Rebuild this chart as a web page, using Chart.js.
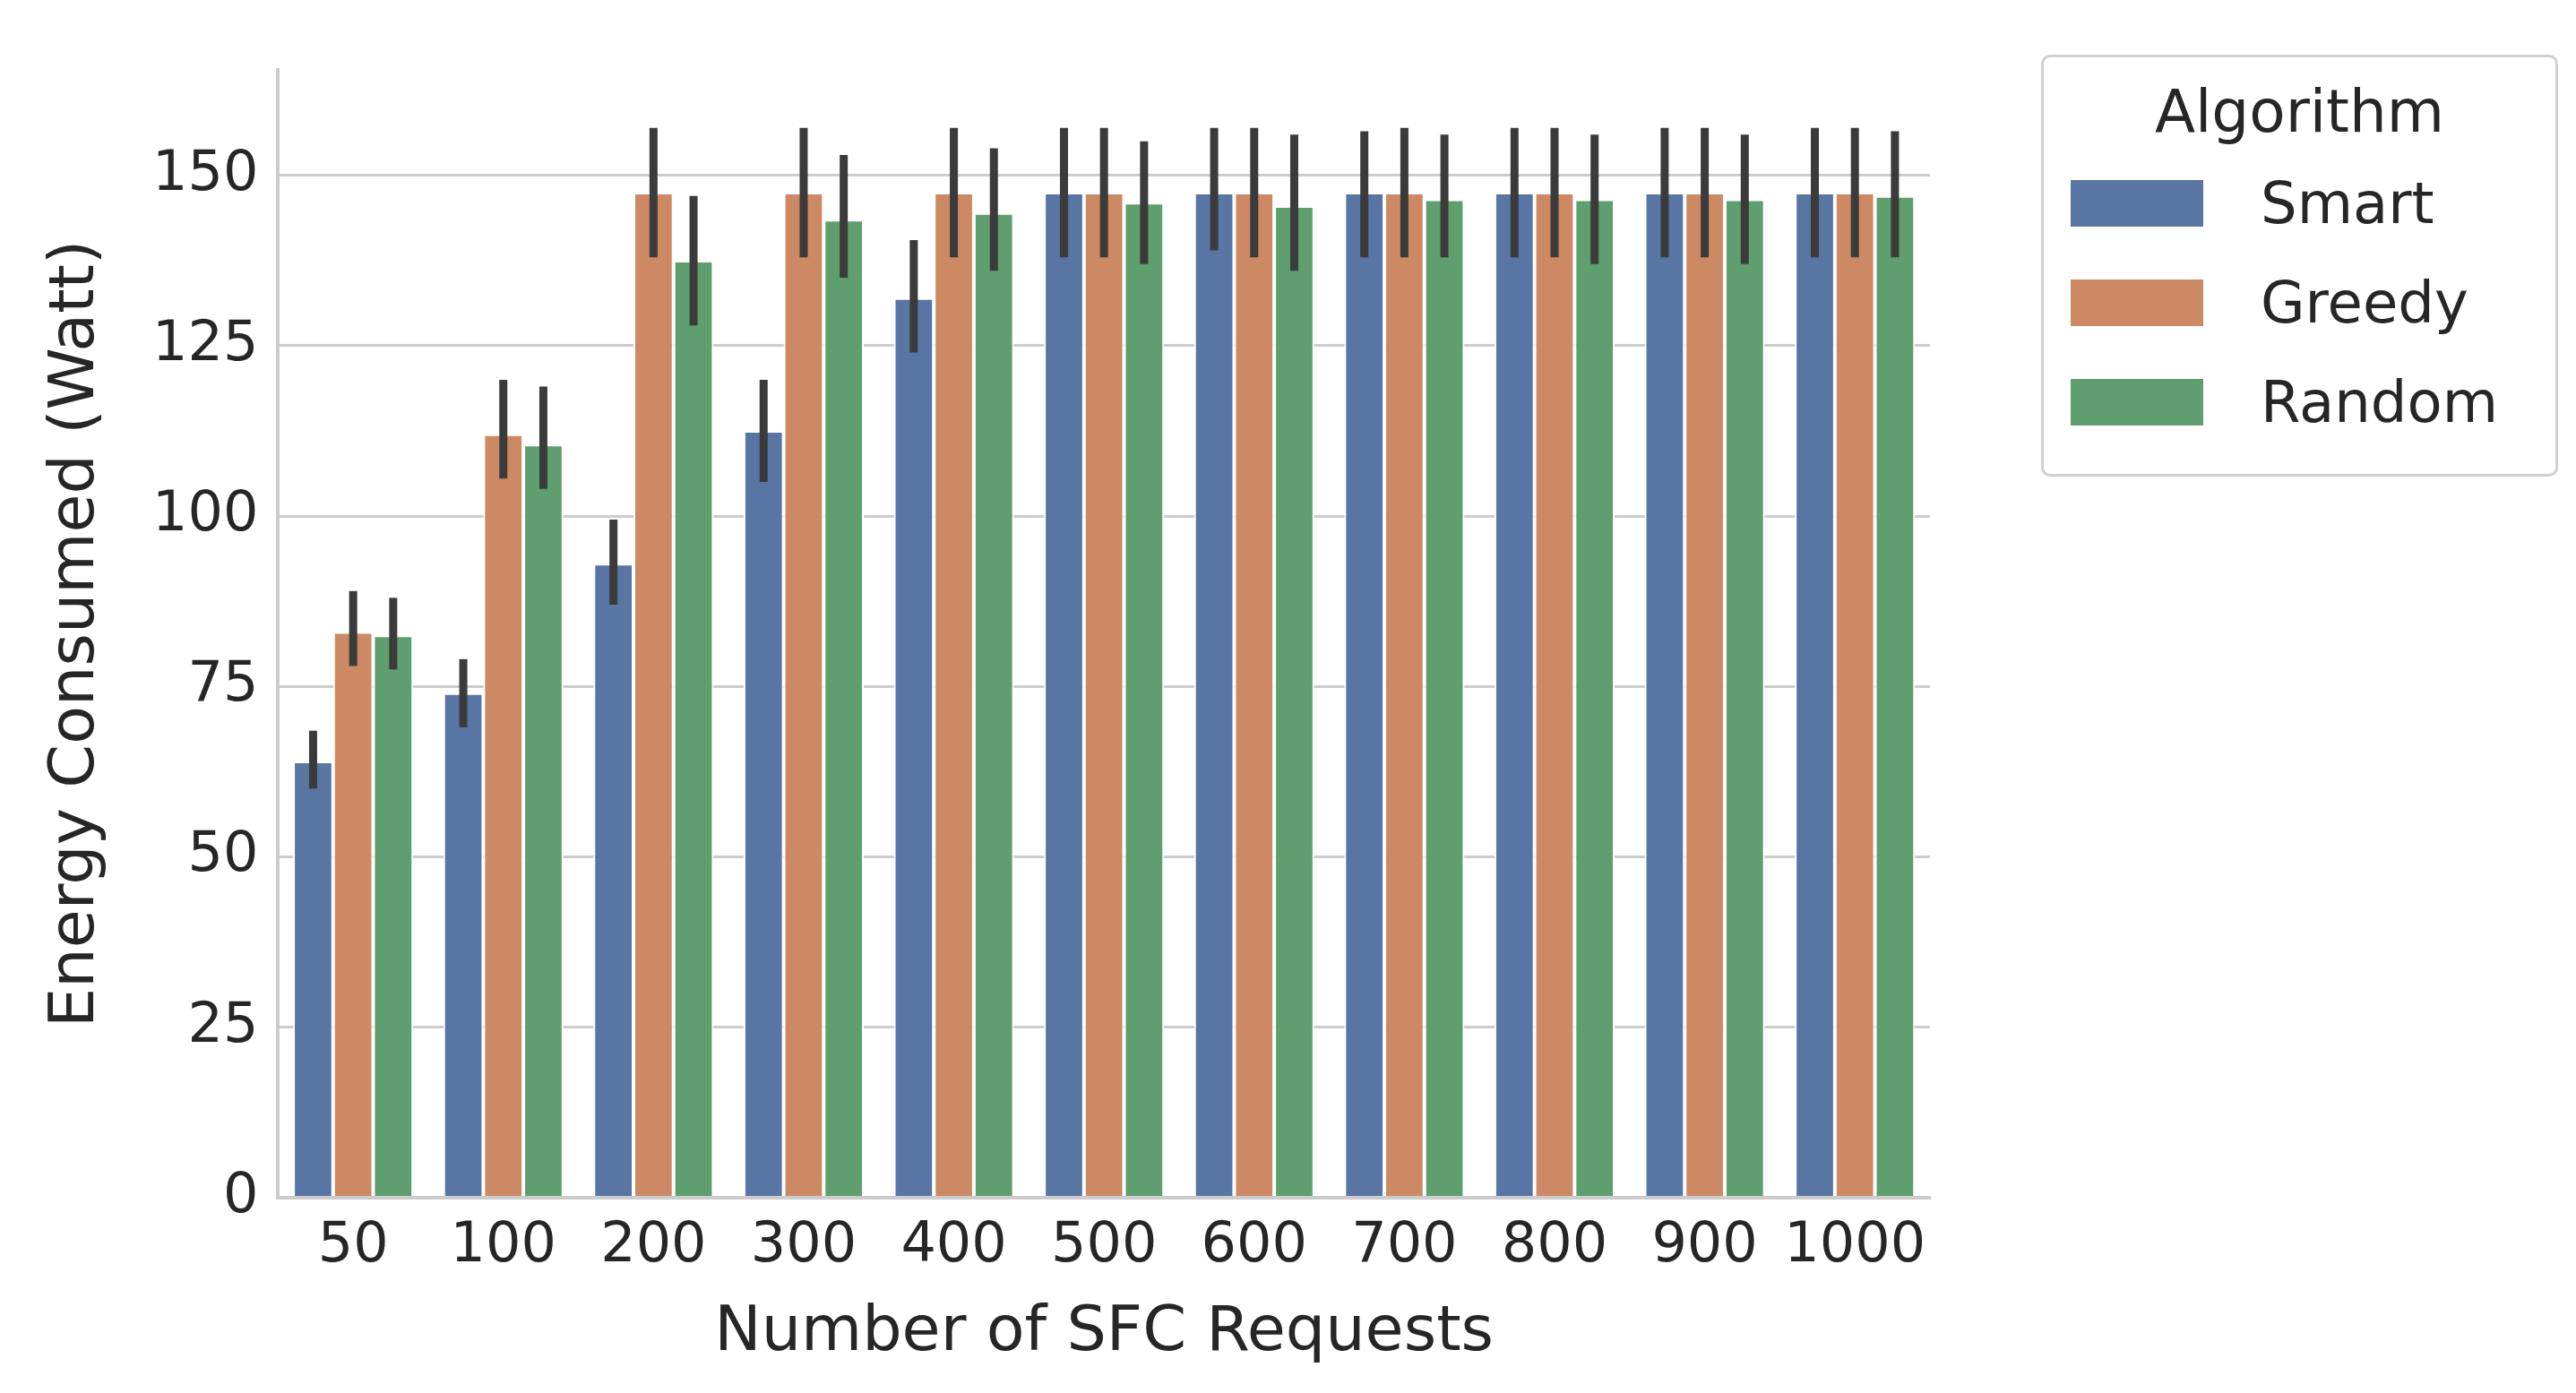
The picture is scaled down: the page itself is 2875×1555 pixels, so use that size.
<!DOCTYPE html>
<html><head><meta charset="utf-8">
<script src="https://cdn.jsdelivr.net/npm/chart.js@4"></script>
<style>
html,body{margin:0;padding:0;background:#fff;}
#wrap{position:relative;width:2875px;height:1555px;}
#legend{position:absolute;left:2278px;top:61px;width:577px;height:471px;border:3px solid #d0d0d0;border-radius:10px;box-sizing:border-box;font-family:"DejaVu Sans";color:#262626;background:#fff;}
#legend .t{font-size:66px;text-align:center;margin-top:22px;}
#legend .r{display:flex;align-items:center;height:111px;font-size:64px;}
#legend .s{width:148px;height:52px;margin-left:30px;margin-right:64px;}
</style></head><body>
<div id="wrap"><canvas id="c" width="2875" height="1555"></canvas>
<div id="legend"><div class="t">Algorithm</div>
<div class="r" style="margin-top:8px"><div class="s" style="background:#5875a4"></div>Smart</div>
<div class="r"><div class="s" style="background:#cc8963"></div>Greedy</div>
<div class="r"><div class="s" style="background:#5f9e6e"></div>Random</div></div>
</div>
<script>
const categories=["50","100","200","300","400","500","600","700","800","900","1000"];
const smart=[64,74,93,112.5,132,147.5,147.5,147.5,147.5,147.5,147.5];
const smartLo=[60,69,87,105,124,138,139,138,138,138,138];
const smartHi=[68.5,79,99.5,120,140.5,157,157,156.5,157,157,157];
const greedy=[83,112,147.5,147.5,147.5,147.5,147.5,147.5,147.5,147.5,147.5];
const greedyLo=[78,105.5,138,138,138,138,138,138,138,138,138];
const greedyHi=[89,120,157,157,157,157,157,157,157,157,157];
const random=[82.5,110.5,137.5,143.5,144.5,146,145.5,146.5,146.5,146.5,147];
const randomLo=[77.5,104,128,135,136,137,136,138,137,137,138];
const randomHi=[88,119,147,153,154,155,156,156,156,156,156.5];
const yTicks=[0,25,50,75,100,125,150];
const errs=[[smartLo,smartHi],[greedyLo,greedyHi],[randomLo,randomHi]];
const errPlugin={id:'err',afterDatasetsDraw(ch){const c=ch.ctx,y=ch.scales.y;c.save();c.strokeStyle='#3b3b3b';c.lineWidth=9;
ch.data.datasets.forEach((d,i)=>{ch.getDatasetMeta(i).data.forEach((b,j)=>{c.beginPath();c.moveTo(b.x,y.getPixelForValue(errs[i][0][j]));c.lineTo(b.x,y.getPixelForValue(errs[i][1][j]));c.stroke();});});c.restore();}};
const F="DejaVu Sans";
new Chart(document.getElementById('c'),{type:'bar',
data:{labels:categories,datasets:[
{label:'Smart',data:smart,backgroundColor:'#5875a4',borderColor:'#fff',borderWidth:2},
{label:'Greedy',data:greedy,backgroundColor:'#cc8963',borderColor:'#fff',borderWidth:2},
{label:'Random',data:random,backgroundColor:'#5f9e6e',borderColor:'#fff',borderWidth:2}]},
options:{responsive:false,animation:false,devicePixelRatio:1,
layout:{padding:{left:40,right:721,top:78,bottom:20}},
datasets:{bar:{categoryPercentage:0.8,barPercentage:1}},
plugins:{legend:{display:false},tooltip:{enabled:false}},
scales:{x:{grid:{display:false,drawTicks:false},border:{color:'#cccccc',width:4},
ticks:{color:'#262626',font:{family:F,size:62},padding:18,maxRotation:0,autoSkip:false},
title:{display:true,text:'Number of SFC Requests',color:'#262626',font:{family:F,size:70},padding:{top:0}}},
y:{min:0,max:165.5,afterBuildTicks:a=>{a.ticks=yTicks.map(v=>({value:v}));},
grid:{color:'#cccccc',lineWidth:3,drawTicks:false},border:{color:'#cccccc',width:4},
ticks:{color:'#262626',font:{family:F,size:62},padding:22},
title:{display:true,text:'Energy Consumed (Watt)',color:'#262626',font:{family:F,size:70},padding:{bottom:20}}}}},
plugins:[errPlugin]});
</script></body></html>
